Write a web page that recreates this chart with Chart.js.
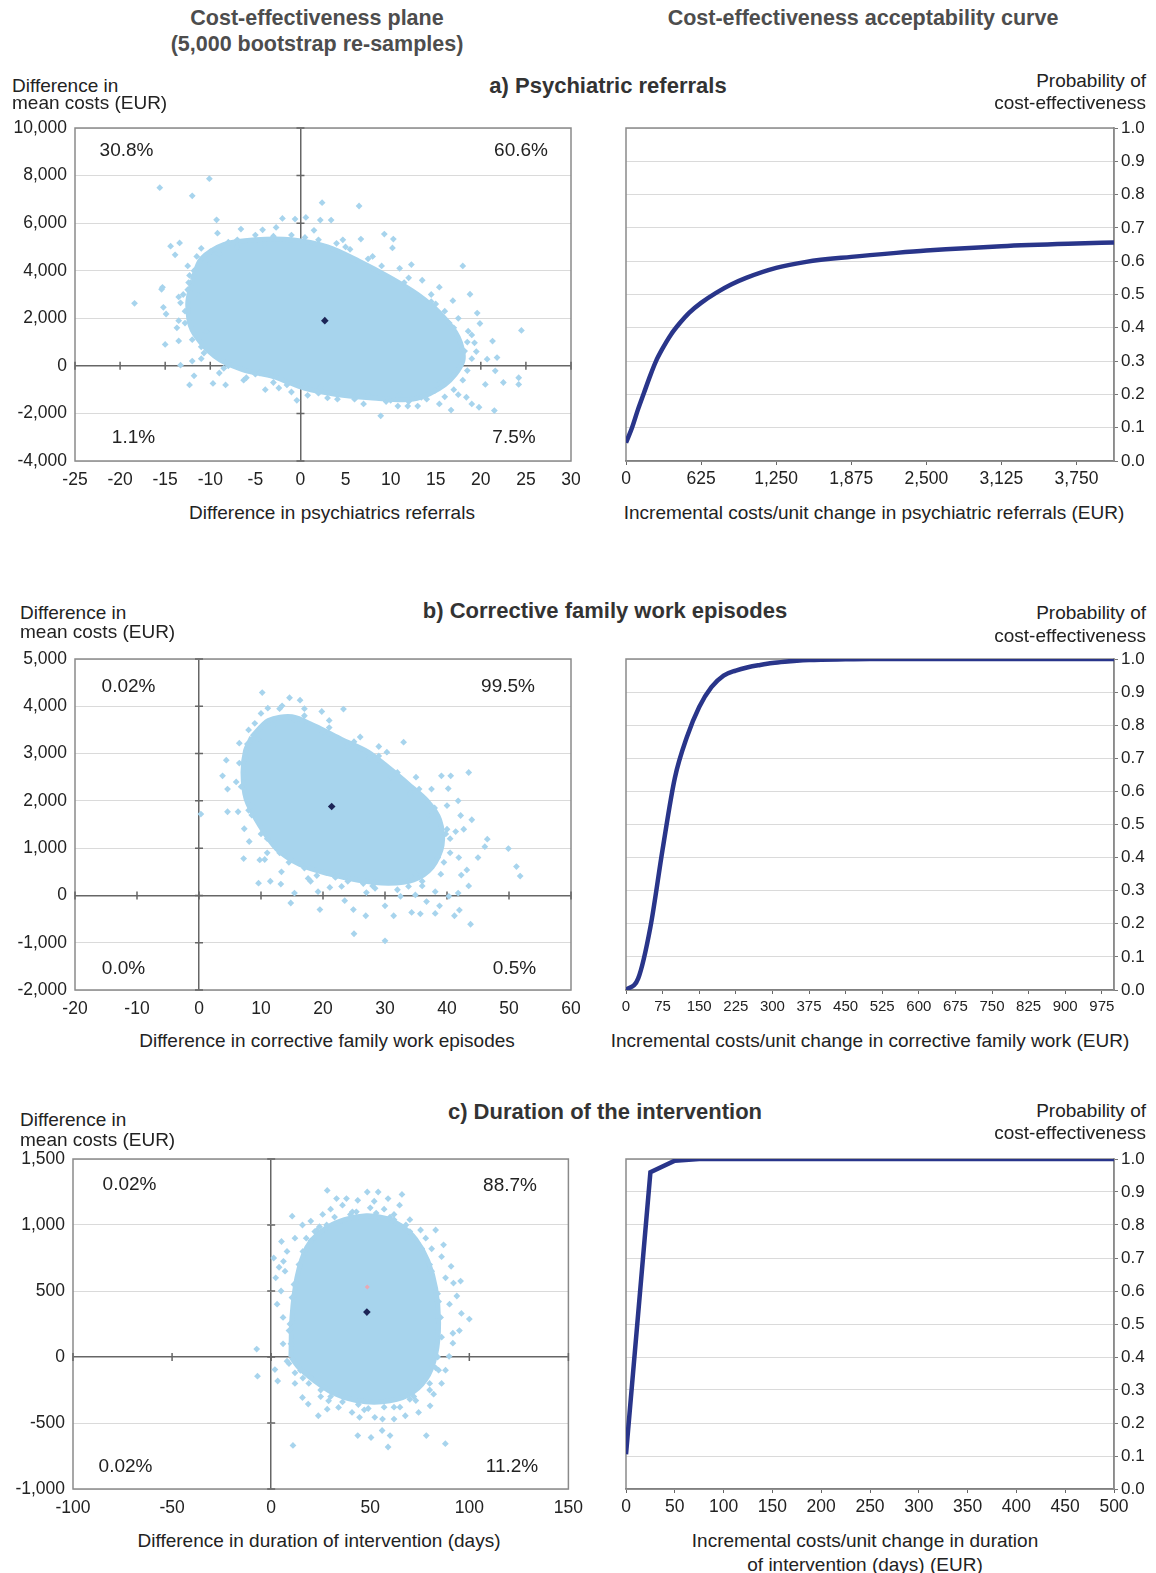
<!DOCTYPE html>
<html>
<head>
<meta charset="utf-8">
<script src="https://cdn.jsdelivr.net/npm/chart.js@4/dist/chart.umd.min.js"></script>
<style>
body{margin:0;background:#fff;}
#page{position:relative;width:1156px;height:1573px;background:#fff;overflow:hidden;
  font-family:"Liberation Sans",Arial,sans-serif;color:#222;}
#page canvas{position:absolute;}
.t{position:absolute;white-space:nowrap;line-height:1;transform:translate(-50%,-50%);font-size:19px;}
.head{font-weight:bold;font-size:21.5px;color:#4d4d4d;}
.ptitle{font-weight:bold;font-size:22px;color:#333;}
.yl{transform:translate(0,-50%);}
.yr{transform:translate(-100%,-50%);}
</style>
</head>
<body>
<div id="page"></div>
<script>
// ---------- data: a) psychiatric referrals ----------
const aCloud = [
  [-15.6,7490],[-10.1,7870],[-12,7150],[-9.3,6140],[2.4,6860],[6.5,6720],
  [-14.4,5030],[-13.4,5170],[-13.9,4670],[-15.4,3220],[-15.3,3300],[-18.4,2630],[-15.2,2460],[-14.9,2180],
  [-13.3,2650],[-13.7,1600],[-15,900],[-13.5,1050],[-13.3,30],[-11.8,-420],[-12.3,-800],[-9.7,-740],
  [-8.3,-800],[-6.3,-600],[-3.9,-1000],[-2.4,-930],[-0.4,-1450],[0.8,-1240],[2.2,-900],
  [8.9,-2100],[10.8,-1690],[11.9,-1690],[13,-1690],[15.4,-1600],[16.7,-1860],[19,-1600],[19.8,-1740],
  [21.5,-1880],[22.5,-700],[24.2,-500],[24.2,-780],[20.5,-780],[21.6,-210],[21.8,350],[20.7,280],
  [21.3,1040],[19.9,1780],[19.6,2220],[18.8,3010],[18,4200],[24.5,1490],[15.4,3310],[16.9,2740],
  [12.3,4260],[10.3,5330],[9.3,5540],[10.2,4960],[6.7,5330],[4.7,5300],[3.4,6130],[2.2,6130],
  [0.6,6240],[-0.6,6170],[-2,6200],[-2.7,5820],[-4.2,5720],[-6.6,5750],[-9.2,5580],[-11,4940],
  [-12.3,3800],[-12.4,3500],[-11.3,2970],[18.6,1460],[19.3,970],[18.2,620],[17.1,-210],[14.9,-1040],
  [13.4,-1320],[17.5,-1210],[18.4,-1320],[4.1,-1400],[6,-1300],[7.5,-1210],[-10.7,540],[-11.1,1030],
  [-10.5,1440],[-8,5200],[-5,5500],[1.5,5700],[5.5,4900],[8,4600],[11,4100],[13.5,3600],[14.5,3000],
  [16,2300],[17,1600],[19.5,600],[18,-600],[15.5,-700],[12,-1500],[9.5,-1500],[-1.5,-800],[-5,-350],
  [-8.5,-100],[-12,200],[-12.8,2300],[-13,3000],[-10,4300],
  [-12.5,3200],[-11.8,4000],[-10,4800],[-7,5300],[-3,5450],[0.5,5400],[4,5150],[7.5,4500],[11.5,3500],
  [14.5,2700],[16.5,1800],[18.5,1000],[18.5,-200],[17,-1000],[14,-1400],[10,-1450],[6,-1400],[2,-1150],
  [-1.5,-700],[-4.5,-300],[-8,0],[-11,800],[-12.8,1800],
  [-9,4700],[-7,5000],[-4,5100],[-1,5500],[2,5300],[5,5000],[9,4200],[12,3700],[15,2600],[17.5,2000],
  [19,1300],[19,300],[17,-400],[16,-1300],[11,-1200],[7,-1600],[3,-1350],[-1,-1100],[-3,-700],[-6,-500],
  [-9,-300],[-11,300],[-12,1100],[-13.5,1900],[-13.5,2900],[-12.5,4200],[-11.5,4600]
];
const aCore = [
  [-12,3600],[-11,4500],[-8.5,5100],[-5,5300],[-1,5300],[3,5000],[6.5,4400],[10,3700],[13,3000],
  [15.5,2200],[17.5,1200],[18,200],[16,-800],[12.5,-1400],[8,-1350],[4,-1200],[0.5,-950],[-3,-450],
  [-6.5,-150],[-9.5,400],[-12,1500],[-12.5,2600]
];
const aMean = [[2.7,1900]];
const aQuadrants = ['30.8%','60.6%','1.1%','7.5%'];
const aPlaneXTicks = [-25,-20,-15,-10,-5,0,5,10,15,20,25,30];
const aPlaneYTicks = [-4000,-2000,0,2000,4000,6000,8000,10000];
const aCeacX = [0,50,100,150,200,250,300,375,450,525,625,750,875,1000,1250,1500,1875,2250,2500,3125,3750,4062.5];
const aCeacY = [0.055,0.10,0.155,0.205,0.255,0.30,0.335,0.38,0.415,0.445,0.475,0.505,0.53,0.55,0.58,0.598,0.613,0.625,0.632,0.645,0.653,0.656];
const aCeacTicks = [0,625,1250,1875,2500,3125,3750];

// ---------- data: b) corrective family work episodes ----------
const bCloud = [
  [10.2,4290],[14.6,4180],[16.3,4130],[13.4,4010],[19.8,3890],[23.3,3940],[33,3240],[30.3,3030],
  [4.4,2860],[3.8,2530],[4.6,2250],[6.3,1770],[4.6,1770],[0.3,1720],[7.3,1410],[8.1,1140],[7.2,780],
  [9.8,750],[10.6,760],[9.6,260],[13.2,240],[15.4,50],[14.8,-160],[19.5,-300],[19.2,80],[23.5,-110],
  [24.9,-300],[25,-810],[26.9,-430],[30,-220],[30,-960],[31.4,-430],[32.5,-20],[34.3,-360],[35.7,-390],
  [36.7,-130],[38.1,-380],[38.8,-220],[40.3,-20],[41.2,-430],[42,-310],[43.8,-610],[41.8,50],[43.2,540],
  [42.3,430],[41.9,800],[41.4,1350],[42.7,1400],[42.2,1690],[41.8,2000],[40.2,2260],[40.6,2530],
  [43.5,2600],[39.1,2530],[46.5,1190],[46.1,1030],[49.9,990],[51.2,610],[51.8,410],[38.1,80],[34.9,10],
  [33.8,190],[28.4,150],[23,190],[21.1,170],[17.6,360],[13.3,500],[6.5,3220],[9,3640],[11.1,3960],
  [17,3950],[21,3700],[26,3350],[29,3150],[35,2500],[37.5,2250],[40,1900],[40.5,1200],[39.5,700],
  [36,300],[27,60],[18,300],[11,900],[8.5,1900],[6,2400],[7.5,2900],
  [8,3500],[10,3850],[13,3950],[17,3800],[21,3550],[25,3250],[29,2950],[32,2600],[35.5,2250],[38,1850],
  [40,1400],[40.5,900],[39,450],[36,200],[32,120],[28,200],[24,300],[19,420],[14.5,700],[11,1200],
  [8.5,1700],[6.8,2300],[6.5,2800],
  [9.5,3300],[12,3600],[15.5,3700],[20,3450],[24,3150],[27.5,2900],[31,2500],[34,2150],[37,1700],
  [39.8,1300],[38.5,800],[35,450],[31,300],[26.5,250],[22,380],[17,580],[13,900],[10,1300],[8,1800],
  [7.3,2500],[7.8,3200],[44,1600],[45,800],[43.5,200],[11.5,300]
];
const bCore = [
  [8.5,3350],[11.2,3700],[15,3780],[18.7,3580],[23,3300],[27.3,3030],[30.6,2700],[33.8,2350],[36.8,2000],
  [38.8,1600],[39.2,1060],[37.6,600],[34.6,330],[30.6,260],[25.7,320],[20.8,460],[16.2,660],[12.5,990],
  [9.8,1480],[7.6,2040],[7.1,2600],[7.5,3060]
];
const bMean = [[21.4,1880]];
const bQuadrants = ['0.02%','99.5%','0.0%','0.5%'];
const bPlaneXTicks = [-20,-10,0,10,20,30,40,50,60];
const bPlaneYTicks = [-2000,-1000,0,1000,2000,3000,4000,5000];
const bCeacX = [0,25,50,75,100,125,150,175,200,225,250,275,300,325,350,375,400,450,500,1000];
const bCeacY = [0,0.035,0.19,0.425,0.64,0.765,0.855,0.915,0.95,0.965,0.975,0.982,0.988,0.992,0.995,0.997,0.998,0.999,1,1];
const bCeacTicks = [0,75,150,225,300,375,450,525,600,675,750,825,900,975];

// ---------- data: c) duration of the intervention ----------
const cCloud = [
  [28.3,1262],[48.5,1250],[54,1250],[66,1232],[33,1200],[38,1200],[43.7,1187],[59,1200],[64.8,1150],
  [10.6,1067],[15.8,1000],[5.2,875],[12,900],[17.7,900],[24.4,987],[75.4,962],[83,962],[87,850],
  [1.3,750],[6.2,725],[2.3,600],[95.6,575],[93.7,462],[100,287],[90.8,687],
  [30,1120],[36,1150],[41,1100],[52,1180],[57,1120],[62,1080],[70,1040],[26,1080],[20,1030],[22,950],
  [78,900],[81,820],[86,760],[8,800],[4,680],[92,560],[90,400],[96,330],[5,500],[3,400],
  [-7.3,60],[-6.9,-145],[1.9,-95],[3.3,-182],[8,-32],[14.8,-102],[15.8,-307],[18.7,-357],[23.8,-445],
  [28.3,-395],[29,-332],[34,-382],[40.8,-420],[43.7,-595],[44.6,-457],[50.4,-610],[56,-557],[60,-595],
  [59,-682],[62,-470],[67.7,-445],[74.4,-420],[78.3,-595],[87.9,-657],[80.2,-370],[82,-282],[89.8,5],
  [91.7,105],[91.7,180],[83,-82],[11,-670],[52.3,-457],[56.2,-470],[86,-200],[88,-100],[6,100],[9,200],
  [12,-200],[25,-300],[47,-400],[65,-380],[72,-300],
  [9,-50],[9.5,250],[11.5,550],[16,800],[23,960],[32,1060],[43,1100],[53,1090],[62,1040],[70,950],
  [76,820],[81,650],[84.5,420],[86,150],[84.5,-100],[80,-250],[73,-330],[62,-380],[49,-390],[36,-340],
  [25,-250],[16,-160],
  [10,100],[10.5,450],[14,700],[20,880],[28,1000],[40,1080],[50,1130],[60,1060],[68,1000],[74,860],
  [80,700],[84,480],[85.5,300],[84,0],[80,-200],[70,-320],[57,-380],[44,-360],[30,-300],[19,-200],
  [12,-120],[88,600],[7,650],[6,300],[95,200]
];
const cCore = [
  [10,0],[10.5,300],[13,600],[18,830],[26,960],[37,1040],[48,1070],[58,1050],[66,990],[73,890],[79,730],
  [83,520],[84.5,260],[83,20],[78,-170],[69,-290],[56,-340],[43,-330],[31,-270],[21,-170],[14,-80]
];
const cMean = [[48.3,340]];
const cOther = [[48.5,530]];
const cQuadrants = ['0.02%','88.7%','0.02%','11.2%'];
const cPlaneXTicks = [-100,-50,0,50,100,150];
const cPlaneYTicks = [-1000,-500,0,500,1000,1500];
const cCeacX = [0,25,50,75,100,500];
const cCeacY = [0.105,0.96,0.995,1,1,1];
const cCeacTicks = [0,50,100,150,200,250,300,350,400,450,500];

const probTicks = [0,0.1,0.2,0.3,0.4,0.5,0.6,0.7,0.8,0.9,1];

// ---------- texts ----------
const headers = ['Cost-effectiveness plane', '(5,000 bootstrap re-samples)', 'Cost-effectiveness acceptability curve'];
const panelTitles = ['a)  Psychiatric referrals', 'b) Corrective family work episodes', 'c) Duration of the intervention'];
const planeXTitles = ['Difference in psychiatrics referrals', 'Difference in corrective family work episodes', 'Difference in duration of intervention (days)'];
const ceacXTitles = [['Incremental costs/unit change in psychiatric referrals (EUR)'],
  ['Incremental costs/unit change in corrective family work (EUR)'],
  ['Incremental costs/unit change in duration', 'of intervention (days) (EUR)']];

const CLOUD = '#a7d4ed';
const NAVY = '#29358a';
const PADTOP = 24;
const page = document.getElementById('page');
Chart.defaults.font.family = '"Liberation Sans", Arial, sans-serif';
Chart.defaults.color = '#222';

// plot-area boxes in page pixels
const boxes = [
  {T:128, B:461, LL:75, LR:571, RL:626, RR:1114, yTitle:[85,102], pTitle:[80,102], title:86, xTitle:512, xl:12,
   q:[[126.5,148.5],[521,148.5],[133.5,435.5],[514,435.5]]},
  {T:659, B:990, LL:75, LR:571, RL:626, RR:1114, yTitle:[612,631], pTitle:[612,635], title:611, xTitle:1040, xl:20,
   q:[[128.5,684.5],[508,684.5],[123.5,967],[514.5,967]]},
  {T:1159, B:1489, LL:73, LR:571, RL:626, RR:1114, yTitle:[1119,1139], pTitle:[1110,1132], title:1112, xTitle:1540, xl:20,
   q:[[129.5,1183],[510,1184],[125.5,1465],[512,1465]]}
];

function text(str, x, y, cls, style) {
  const d = document.createElement('div');
  d.className = 't ' + (cls || '');
  d.textContent = str;
  d.style.left = x + 'px';
  d.style.top = y + 'px';
  if (style) Object.assign(d.style, style);
  page.appendChild(d);
}
function xy(arr) { return arr.map(p => ({x: p[0], y: p[1]})); }
function fmt(v) { return Number(v).toLocaleString('en-US'); }
function fixed(list) { return s => { s.ticks = list.map(v => ({value: v})); }; }

const frame = {
  id: 'frame',
  beforeDatasetsDraw(chart) {
    const {ctx, chartArea: a} = chart;
    ctx.save();
    ctx.strokeStyle = '#8a8a8a';
    ctx.lineWidth = 1.5;
    ctx.strokeRect(a.left, a.top, a.right - a.left, a.bottom - a.top);
    ctx.restore();
  }
};
// small tick marks along the two zero axes of the plane
const zeroAxes = {
  id: 'zeroAxes',
  beforeDatasetsDraw(chart) {
    const {ctx, scales: {x, y}} = chart;
    const x0 = x.getPixelForValue(0), y0 = y.getPixelForValue(0);
    ctx.save();
    ctx.strokeStyle = '#666';
    ctx.lineWidth = 1.5;
    ctx.beginPath();
    x.ticks.forEach(t => { const px = x.getPixelForValue(t.value); ctx.moveTo(px, y0 - 4); ctx.lineTo(px, y0 + 4); });
    y.ticks.forEach(t => { const py = y.getPixelForValue(t.value); ctx.moveTo(x0 - 4, py); ctx.lineTo(x0 + 4, py); });
    ctx.stroke();
    ctx.restore();
  }
};

function addCanvas(left, top, w, h) {
  const cv = document.createElement('canvas');
  cv.width = w; cv.height = h;
  cv.style.left = left + 'px'; cv.style.top = top + 'px';
  cv.style.width = w + 'px'; cv.style.height = h + 'px';
  page.appendChild(cv);
  return cv;
}

function plane(box, p) {
  const w = 592, h = box.B - box.T + PADTOP + 34;
  const cv = addCanvas(0, box.T - PADTOP, w, h);
  const sets = [
    {data: xy(p.mean), pointStyle: 'rectRot', pointRadius: 3.8, backgroundColor: '#1c2557', borderWidth: 0, order: 0},
    {data: xy(p.cloud), pointStyle: 'rectRot', pointRadius: 3.4, backgroundColor: CLOUD, borderWidth: 0, order: 2},
    {data: xy(p.core.concat([p.core[0]])), showLine: true, fill: 'shape', tension: 0.3, backgroundColor: CLOUD,
     borderColor: CLOUD, borderWidth: 5, pointRadius: 0, order: 3}
  ];
  if (p.other) sets.push({data: xy(p.other), pointStyle: 'rectRot', pointRadius: 2.5, backgroundColor: '#e9a9b4', borderWidth: 0, order: 1});
  const zeroColor = (c, other) => (c.tick && c.tick.value === 0) ? '#666' : other;
  new Chart(cv, {
    type: 'scatter',
    data: {datasets: sets},
    options: {
      responsive: false, animation: false, events: [],
      layout: {padding: {left: 0, top: PADTOP, right: w - box.LR, bottom: 0}},
      plugins: {legend: {display: false}, tooltip: {enabled: false}},
      scales: {
        x: {type: 'linear', min: p.xt[0], max: p.xt[p.xt.length - 1],
            afterFit: s => { s.height = 34; }, afterBuildTicks: fixed(p.xt),
            ticks: {autoSkip: false, maxRotation: 0, padding: 9, font: {size: 17.5}, callback: fmt},
            grid: {drawTicks: false, lineWidth: 1.5, color: c => zeroColor(c, 'rgba(0,0,0,0)')},
            border: {display: false}},
        y: {type: 'linear', min: p.yt[0], max: p.yt[p.yt.length - 1],
            afterFit: s => { s.width = box.LL; }, afterBuildTicks: fixed(p.yt),
            ticks: {padding: 8, font: {size: 17.5}, callback: fmt},
            grid: {drawTicks: false, lineWidth: c => (c.tick && c.tick.value === 0) ? 1.5 : 1, color: c => zeroColor(c, '#dadada')},
            border: {display: false}}
      }
    },
    plugins: [frame, zeroAxes]
  });
}

function ceac(box, p) {
  const left = 600, w = 556, h = box.B - box.T + PADTOP + 34;
  const cv = addCanvas(left, box.T - PADTOP, w, h);
  new Chart(cv, {
    type: 'scatter',
    data: {datasets: [{data: p.cx.map((x, i) => ({x: x, y: p.cy[i]})), showLine: true, borderColor: NAVY,
      borderWidth: 4.5, pointRadius: 0, cubicInterpolationMode: p.smooth ? 'monotone' : 'default', tension: 0}]},
    options: {
      responsive: false, animation: false, events: [],
      layout: {padding: {left: box.RL - left, top: PADTOP, right: 0, bottom: 0}},
      plugins: {legend: {display: false}, tooltip: {enabled: false}},
      scales: {
        x: {type: 'linear', min: 0, max: p.cmax,
            afterFit: s => { s.height = 34; }, afterBuildTicks: fixed(p.ct),
            ticks: {autoSkip: false, maxRotation: 0, padding: 4, font: {size: p.cfont}, callback: fmt},
            grid: {drawOnChartArea: false, drawTicks: true, tickLength: 4, tickColor: '#666'},
            border: {color: '#666', width: 1.5}},
        y: {type: 'linear', position: 'right', min: 0, max: 1,
            afterFit: s => { s.width = 1156 - box.RR; }, afterBuildTicks: fixed(probTicks),
            ticks: {padding: 3, font: {size: 17}, callback: v => Number(v).toFixed(1)},
            grid: {color: '#dadada', drawTicks: true, tickLength: 4, tickColor: '#777'},
            border: {color: '#8a8a8a', width: 1.5}}
      }
    },
    plugins: [frame]
  });
}

// headers
text(headers[0], 317, 19, 'head');
text(headers[1], 317, 45, 'head');
text(headers[2], 863, 19, 'head');

const panels = [
  {cloud: aCloud, core: aCore, mean: aMean, other: null, xt: aPlaneXTicks, yt: aPlaneYTicks,
   cx: aCeacX, cy: aCeacY, ct: aCeacTicks, cmax: 4062.5, cfont: 17.5, smooth: true,
   q: aQuadrants, titleX: 608, px: [332, 874]},
  {cloud: bCloud, core: bCore, mean: bMean, other: null, xt: bPlaneXTicks, yt: bPlaneYTicks,
   cx: bCeacX, cy: bCeacY, ct: bCeacTicks, cmax: 1000, cfont: 15, smooth: true,
   q: bQuadrants, titleX: 605, px: [327, 870]},
  {cloud: cCloud, core: cCore, mean: cMean, other: cOther, xt: cPlaneXTicks, yt: cPlaneYTicks,
   cx: cCeacX, cy: cCeacY, ct: cCeacTicks, cmax: 500, cfont: 17.5, smooth: false,
   q: cQuadrants, titleX: 605, px: [319, 865]}
];

panels.forEach((p, i) => {
  const b = boxes[i];
  plane(b, p);
  ceac(b, p);
  text(panelTitles[i], p.titleX, b.title, 'ptitle');
  text('Difference in', b.xl, b.yTitle[0], 'yl');
  text('mean costs (EUR)', b.xl, b.yTitle[1], 'yl');
  text('Probability of', 1146, b.pTitle[0], 'yr');
  text('cost-effectiveness', 1146, b.pTitle[1], 'yr');
  text(planeXTitles[i], p.px[0], b.xTitle);
  ceacXTitles[i].forEach((s, k) => text(s, p.px[1], b.xTitle + k * 24));
  p.q.forEach((s, k) => text(s, b.q[k][0], b.q[k][1]));
});
</script>
</body>
</html>
